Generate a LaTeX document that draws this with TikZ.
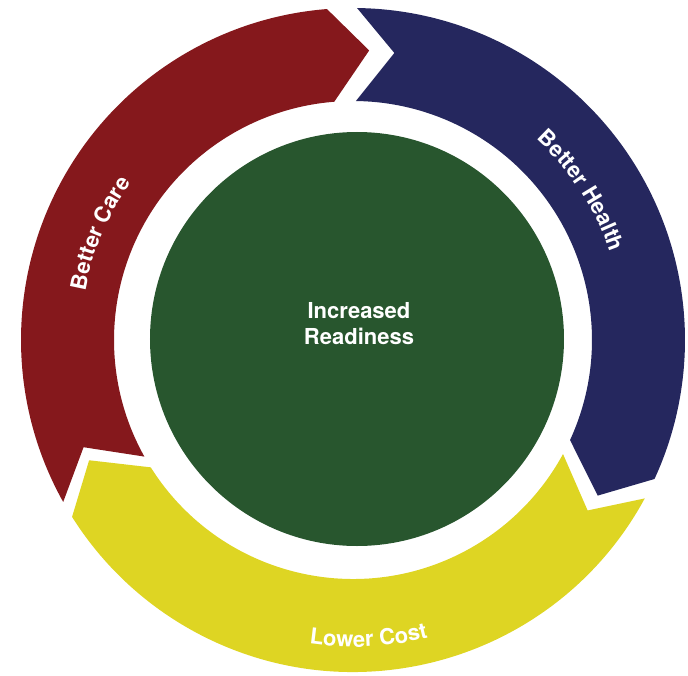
\documentclass[tikz,border=0pt]{standalone}
\usepackage{fontspec}
\setmainfont{TeX Gyre Heros}
\usepackage{tikz}
\usetikzlibrary{decorations.text, positioning}
\definecolor{carered}{RGB}{133,24,28}
\definecolor{healthblue}{RGB}{37,39,94}
\definecolor{costyellow}{RGB}{222,213,35}
\definecolor{readygreen}{RGB}{40,86,46}
\newcommand{\labelfont}{\bfseries\fontsize{22}{26}\selectfont}
% one arrow of the ring: colour, start angle, end angle (clockwise)
\newcommand{\ringarrow}[3]{%
	\fill[#1] (#2:332pt) arc[start angle=#2, end angle=#3, radius=332pt]
		-- (#3-7.7:290pt) -- (#3:239pt)
		arc[start angle=#3, end angle=#2, radius=239pt]
		-- (#2-7.5:290pt) -- cycle;}
\tikzstyle{centre} = [circle, fill=readygreen, minimum size=414pt, inner sep=0pt]
\tikzstyle{centretext} = [text=white, font=\labelfont, align=center]
\tikzstyle{ringtext} = [decorate, decoration={text along path, text align=center, text color=white}]

\begin{document}
\begin{tikzpicture}[x=1pt, y=1pt]
		\useasboundingbox (-353,-335) rectangle (335,340);
		\ringarrow{carered}{209.2}{94.5}
		\ringarrow{healthblue}{89.3}{-24.75}
		\ringarrow{costyellow}{-28.5}{-147.8}
		\node[centre] (readiness) at (4,1) {};
		\node[centretext] (readinesstext) at ([xshift=2pt, yshift=15.5pt]readiness.center) {Increased\\Readiness};
		% labels bent along the ring
		\path[ringtext, decoration={text={|\labelfont|Better Care}}] (190:272pt) arc[start angle=190, end angle=124.4, radius=272pt];
		\path[ringtext, decoration={text={|\labelfont|Better Health}}] (66.2:272pt) arc[start angle=66.2, end angle=0.2, radius=272pt];
		\path[ringtext, decoration={text={|\labelfont|Lower Cost}}] (240:307pt) arc[start angle=240, end angle=306, radius=307pt];
	\end{tikzpicture}
\end{document}
